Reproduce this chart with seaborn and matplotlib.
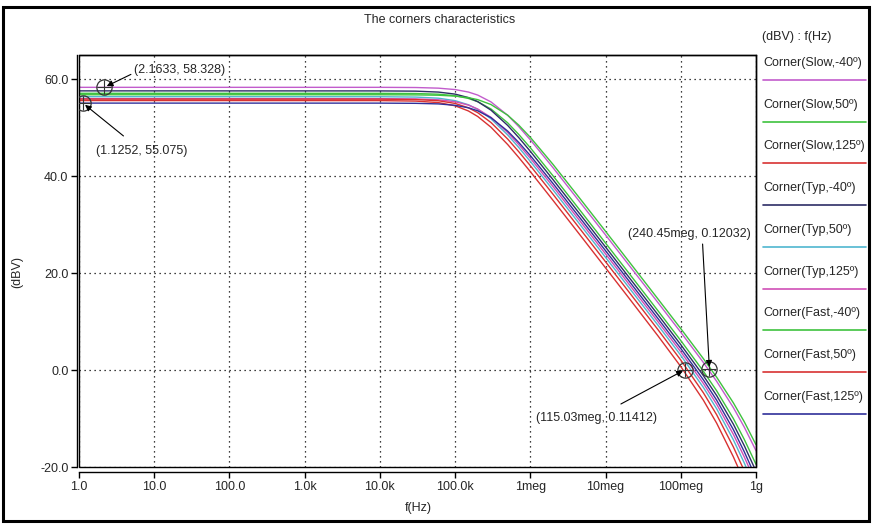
import matplotlib
matplotlib.use("Agg")
import matplotlib.pyplot as plt
from matplotlib.lines import Line2D
from matplotlib.patches import Rectangle
import seaborn as sns
import pandas as pd

# ---- data ----
freq_hz = [1, 1e4, 3e4, 6e4, 1e5, 1.5e5, 2e5, 3e5, 5e5, 7e5, 1e6, 2e6, 5e6,
           1e7, 2e7, 5e7, 1e8, 2e8, 3e8, 5e8, 7e8, 1e9]

corners = ["Corner(Slow,-40º)", "Corner(Slow,50º)", "Corner(Slow,125º)",
           "Corner(Typ,-40º)", "Corner(Typ,50º)", "Corner(Typ,125º)",
           "Corner(Fast,-40º)", "Corner(Fast,50º)", "Corner(Fast,125º)"]

slow_m40 = [58.33, 58.33, 58.29, 58.16, 57.87, 57.36, 56.73, 55.32, 52.56, 50.24, 47.50, 41.76, 33.87,
            27.87, 21.85, 13.87, 7.79, 1.55, -2.33, -7.74, -11.80, -16.63]
slow_50 = [57.10, 57.09, 57.05, 56.91, 56.60, 56.04, 55.36, 53.86, 51.00, 48.63, 45.86, 40.09, 32.20,
           26.20, 20.18, 12.19, 6.09, -0.26, -4.28, -10.00, -14.34, -19.45]
slow_125 = [55.60, 55.59, 55.49, 55.18, 54.52, 53.46, 52.31, 50.10, 46.53, 43.88, 40.93, 35.02, 27.10,
            21.08, 15.05, 7.01, 0.72, -6.23, -10.96, -17.90, -23.01, -28.77]
typ_m40 = [57.60, 57.59, 57.54, 57.35, 56.93, 56.22, 55.38, 53.62, 50.47, 47.98, 45.13, 39.30, 31.39,
           25.38, 19.35, 11.37, 5.24, -1.17, -5.26, -11.16, -15.63, -20.86]
typ_50 = [56.40, 56.39, 56.32, 56.09, 55.58, 54.74, 53.78, 51.84, 48.50, 45.94, 43.04, 37.18, 29.26,
          23.25, 17.22, 9.21, 3.03, -3.60, -7.99, -14.39, -19.20, -24.73]
typ_125 = [56.00, 55.99, 55.94, 55.76, 55.36, 54.67, 53.85, 52.13, 49.01, 46.54, 43.70, 37.87, 29.97,
           23.96, 17.93, 9.93, 3.77, -2.77, -7.04, -13.26, -17.95, -23.39]
fast_m40 = [56.80, 56.80, 56.77, 56.70, 56.52, 56.20, 55.79, 54.78, 52.58, 50.55, 48.01, 42.44, 34.61,
            28.62, 22.60, 14.62, 8.55, 2.34, -1.48, -6.76, -10.70, -15.40]
fast_50 = [55.90, 55.89, 55.81, 55.56, 55.01, 54.11, 53.10, 51.07, 47.66, 45.07, 42.16, 36.28, 28.35,
           22.34, 16.31, 8.29, 2.06, -4.70, -9.22, -15.86, -20.82, -26.45]
fast_125 = [55.075, 55.07, 55.03, 54.91, 54.62, 54.11, 53.48, 52.07, 49.30, 46.98, 44.25, 38.50, 30.62,
            24.62, 18.59, 10.59, 4.45, -2.02, -6.22, -12.29, -16.89, -22.23]

series = [slow_m40, slow_50, slow_125, typ_m40, typ_50, typ_125, fast_m40, fast_50, fast_125]
colors = ["#c25ccc", "#3ec23e", "#d83232", "#2e2e66", "#4fb6cf", "#cf4fb6",
          "#3ec23e", "#d83232", "#30309a"]

x_ticks = [1, 10, 100, 1e3, 1e4, 1e5, 1e6, 1e7, 1e8, 1e9]
x_tick_labels = ["1.0", "10.0", "100.0", "1.0k", "10.0k", "100.0k", "1meg", "10meg", "100meg", "1g"]
y_ticks = [-20, 0, 20, 40, 60]
y_tick_labels = ["-20.0", "0.0", "20.0", "40.0", "60.0"]

# cursor markers: (f, dB, label, text_f, text_dB)
cursors = [
    (2.1633, 58.328, "(2.1633, 58.328)", 5.4, 61.9),
    (1.1252, 55.075, "(1.1252, 55.075)", 1.68, 45.2),
    (240.45e6, 0.12032, "(240.45meg, 0.12032)", 20e6, 28.1),
    (115.03e6, 0.11412, "(115.03meg, 0.11412)", 1.2e6, -9.9),
]
arrow_tails = [(4.9, 61.0), (3.9, 48.3), (195e6, 26.0), (16e6, -7.0)]

# ---- build table ----
rows = []
for name, vals in zip(corners, series):
    for f, v in zip(freq_hz, vals):
        rows.append({"f": f, "dB": v, "corner": name})
df = pd.DataFrame(rows)

sns.set_style("white")
plt.rcParams["font.family"] = ["Liberation Sans", "DejaVu Sans"]
plt.rcParams["font.size"] = 9

W, H = 872, 524
fig = plt.figure(figsize=(W / 100, H / 100), dpi=100)
ax = fig.add_axes([79 / W, 1 - 467 / H, (756 - 79) / W, (467 - 55) / H])

sns.lineplot(data=df, x="f", y="dB", hue="corner", hue_order=corners,
             palette=dict(zip(corners, colors)), estimator=None, sort=False,
             legend=False, lw=1.0, ax=ax)

ax.set_xscale("log")
ax.set_xlim(1, 1e9)
ax.set_ylim(-20, 65)
ax.set_xticks(x_ticks)
ax.set_xticklabels(x_tick_labels)
ax.xaxis.set_minor_locator(matplotlib.ticker.NullLocator())
ax.set_yticks(y_ticks)
ax.set_yticklabels(y_tick_labels)
ax.set_xlabel("")
ax.set_ylabel("")
ax.grid(True, color="black", linestyle=(0, (1, 3)), linewidth=0.9)

for s in ax.spines.values():
    s.set_color("black")
    s.set_linewidth(1.0)
ax.spines["left"].set_position(("outward", 1.6))
ax.spines["bottom"].set_position(("outward", 3.8))
ax.add_patch(Rectangle((0, 0), 1, 1, transform=ax.transAxes, fill=False,
                       edgecolor="black", lw=1.0, zorder=5, clip_on=False))
ax.tick_params(axis="both", direction="out", length=4, width=1, color="black",
               labelsize=9, pad=2, bottom=True, left=True)

# cursors
for (cf, cdb, lab, tf, tdb), (af, adb) in zip(cursors, arrow_tails):
    ax.plot([cf], [cdb], marker="o", ms=11, mfc="none", mec="#333333", mew=0.9, zorder=6)
    ax.plot([cf], [cdb], marker="+", ms=10, mec="#333333", mew=0.8, zorder=6)
    ax.text(tf, tdb, lab, fontsize=9, ha="left", va="center", zorder=7)
    ax.annotate("", xy=(cf, cdb), xytext=(af, adb),
                arrowprops=dict(arrowstyle="-|>", color="black", lw=0.8,
                                mutation_scale=9, shrinkA=0, shrinkB=2), zorder=7)

# titles / labels
fig.text(440 / W, 1 - 20 / H, "The corners characteristics", ha="center", va="center", fontsize=9)
fig.text(17 / W, 1 - 272 / H, "(dBV)", rotation=90, ha="center", va="center", fontsize=9)
fig.text(418 / W, 1 - 508 / H, "f(Hz)", ha="center", va="center", fontsize=9)

# custom legend panel
fig.text(762 / W, 1 - 37 / H, "(dBV) : f(Hz)", ha="left", va="center", fontsize=9)
for i, (name, col) in enumerate(zip(corners, colors)):
    ty = 63 + 41.7 * i
    ly = 80 + 41.7 * i
    fig.text(763 / W, 1 - ty / H, name, ha="left", va="center", fontsize=9)
    fig.add_artist(Line2D([763 / W, 866 / W], [1 - ly / H, 1 - ly / H],
                          color=col, lw=1.2, transform=fig.transFigure))

# outer frame
fig.add_artist(Rectangle((3 / W, 3 / H), (869 - 3) / W, (517 - 3) / H,
                         transform=fig.transFigure, fill=False, edgecolor="black", lw=2.2))

fig.savefig("out.png", dpi=100)
